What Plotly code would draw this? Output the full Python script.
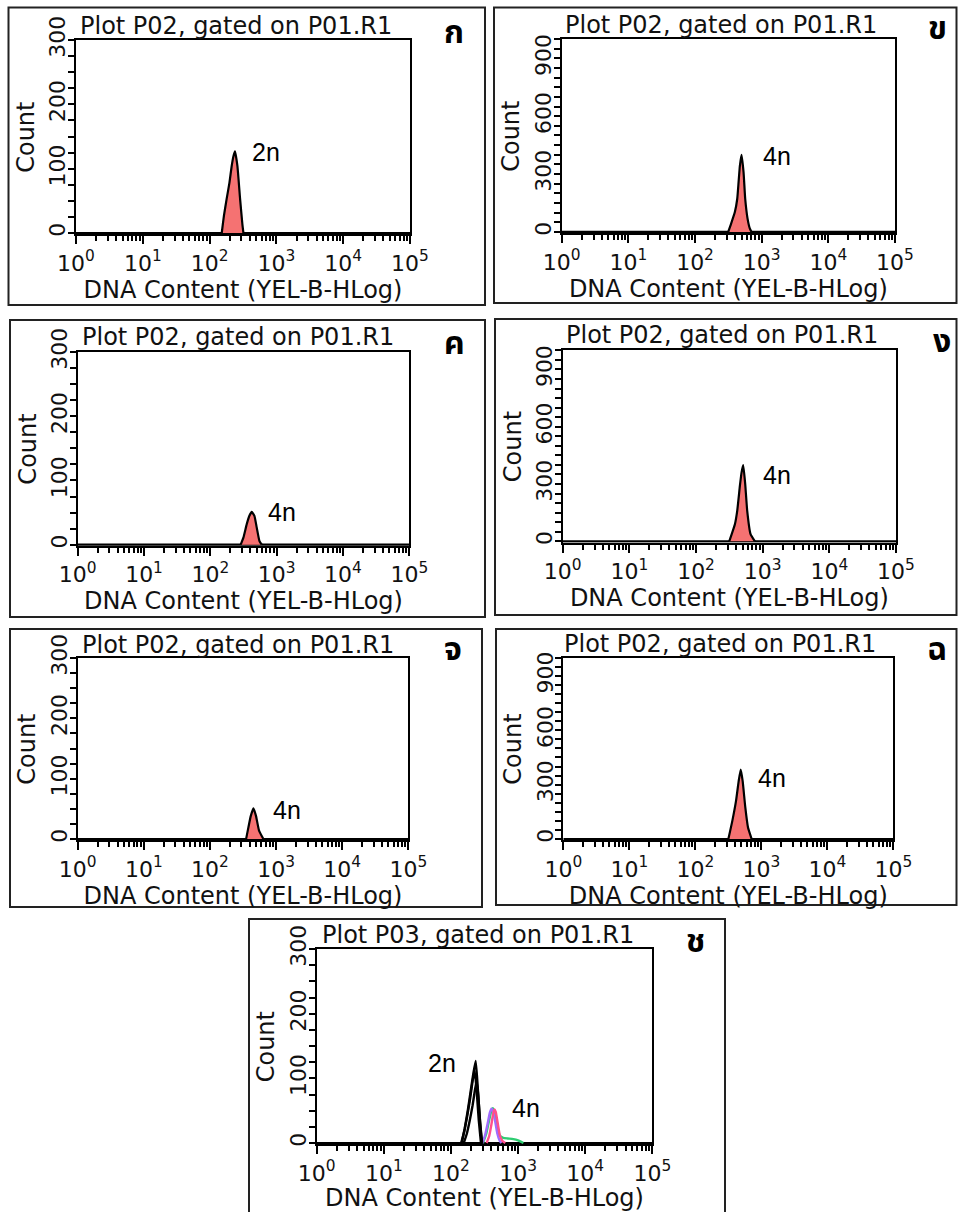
import plotly.graph_objects as go

# ---------------- data ----------------
panel_letters = ["ก", "ข", "ค", "ง", "จ", "ฉ", "ช"]
plot_titles = ["Plot P02, gated on P01.R1"] * 6 + ["Plot P03, gated on P01.R1"]
x_title = "DNA Content (YEL-B-HLog)"
y_title = "Count"
x_limits = [1, 100000]
baseline_counts = [0, 0]
x_tick_vals = [1, 10, 100, 1000, 10000, 100000]
x_tick_text = ["10<sup>0</sup>", "10<sup>1</sup>", "10<sup>2</sup>",
               "10<sup>3</sup>", "10<sup>4</sup>", "10<sup>5</sup>"]
x_minor_vals = [m * 10 ** k for k in range(5) for m in range(2, 10)]
y_ticks_small = [0, 100, 200, 300]
y_ticks_large = [0, 300, 600, 900]
y_max_small = 300
y_max_large = 1000
ploidy_labels = ["2n", "4n", "4n", "4n", "4n", "4n"]

# panel ก (2n)
dna_a = [152, 164, 180, 198, 214, 227, 240, 261, 286, 310, 321]
count_a = [0, 27, 53, 78, 104, 119, 127, 104, 53, 13, 0]
# panel ข (4n)
dna_b = [315, 341, 396, 430, 450, 471, 499, 535, 566, 614, 665, 705]
count_b = [0, 34, 103, 172, 257, 343, 400, 309, 172, 69, 17, 0]
# panel ค (4n)
dna_c = [287, 315, 354, 388, 421, 462, 500, 549, 595]
count_c = [0, 11, 32, 45, 51, 45, 27, 6, 0]
# panel ง (4n)
dna_d = [315, 383, 415, 455, 482, 511, 547, 586, 658, 764]
count_d = [0, 90, 160, 290, 360, 399, 300, 160, 38, 0]
# panel จ (4n)
dna_e = [352, 381, 414, 454, 498, 553, 643]
count_e = [0, 19, 38, 51, 38, 14, 0]
# panel ฉ (4n)
dna_f = [317, 364, 414, 454, 487, 522, 573, 629, 715]
count_f = [0, 100, 210, 319, 383, 319, 173, 64, 0]
# panel ช (overlay)
dna_g_black1 = [145, 160, 178, 198, 216, 234, 250, 268, 287]
count_g_black1 = [0, 22, 50, 82, 108, 127, 88, 40, 0]
dna_g_black2 = [142, 158, 175, 194, 212, 226, 242, 260, 280]
count_g_black2 = [0, 18, 42, 70, 98, 112, 80, 35, 0]
dna_g_black3 = [155, 172, 190, 210, 228, 242, 256, 272, 292]
count_g_black3 = [0, 14, 34, 58, 82, 96, 72, 32, 0]
dna_g_green = [300, 335, 370, 400, 420, 445, 480, 530, 600, 700, 850, 1000, 1200]
count_g_green = [0, 14, 35, 50, 54, 48, 30, 12, 8, 7, 6, 4, 0]
dna_g_purple = [295, 322, 352, 380, 402, 422, 452, 490, 530, 565]
count_g_purple = [0, 12, 30, 47, 53, 50, 36, 15, 4, 0]
dna_g_pink = [340, 370, 400, 425, 445, 465, 495, 535, 585, 645]
count_g_pink = [0, 10, 28, 45, 52, 48, 32, 12, 3, 0]

# ---------------- layout geometry (page pixels) ----------------
W, H = 958, 1212
# plot areas: (x0, x1, ytop, ybottom)
areas = [
    (76, 410, 40, 234.3),
    (561.7, 895, 39, 233.3),
    (77.7, 409.3, 352, 546),
    (562.7, 896, 350.3, 542.7),
    (77.7, 408.3, 658, 840.3),
    (563.3, 893.3, 657.7, 840.3),
    (316.7, 652.3, 949, 1144.3),
]
boxes = [
    (8.5, 485, 7.5, 305),
    (494, 956.5, 7.5, 303),
    (10, 485, 320, 617),
    (495, 956.5, 319, 615),
    (10, 482, 629, 907),
    (496, 956.5, 629, 905),
    (249, 725, 919, 1230),
]
letter_pos = [(454, 33), (937, 29), (454, 344), (942, 342),
              (453, 650), (937, 650), (695, 942)]
ploidy_pos = [(266, 152), (777, 156), (282, 512), (777, 475),
              (287, 810), (772, 778)]
title_pos = [(236, 26), (721, 25), (238, 337), (722, 335),
             (238, 645), (720, 644), (478, 935)]
large_y = [False, True, False, True, False, True, False]


def px(x):
    return x / W


def py(y):
    return 1 - y / H


FILL = "#f57272"
AX_FONT = dict(family="DejaVu Sans", size=24, color="#111111")
TICK_FONT = dict(family="DejaVu Sans", size=22, color="#111111")

fig = go.Figure()

single = [(dna_a, count_a), (dna_b, count_b), (dna_c, count_c),
          (dna_d, count_d), (dna_e, count_e), (dna_f, count_f)]

for i, (dna, cnt) in enumerate(single):
    n = "" if i == 0 else str(i + 1)
    fig.add_trace(go.Scatter(
        x=x_limits, y=baseline_counts, mode="lines",
        line=dict(color="black", width=2.2),
        xaxis="x" + n, yaxis="y" + n, showlegend=False, hoverinfo="skip"))
    fig.add_trace(go.Scatter(
        x=dna, y=cnt, mode="lines", fill="tozeroy", fillcolor=FILL,
        line=dict(color="black", width=2.2, shape="spline", smoothing=0.4),
        xaxis="x" + n, yaxis="y" + n, showlegend=False, hoverinfo="skip"))

fig.add_trace(go.Scatter(
    x=x_limits, y=baseline_counts, mode="lines",
    line=dict(color="black", width=2.2),
    xaxis="x7", yaxis="y7", showlegend=False, hoverinfo="skip"))
overlay = [
    (dna_g_green, count_g_green, "#2ecc71"),
    (dna_g_purple, count_g_purple, "#a06cff"),
    (dna_g_pink, count_g_pink, "#ff4f8b"),
    (dna_g_black3, count_g_black3, "black"),
    (dna_g_black2, count_g_black2, "black"),
    (dna_g_black1, count_g_black1, "black"),
]
for dna, cnt, col in overlay:
    fig.add_trace(go.Scatter(
        x=dna, y=cnt, mode="lines",
        line=dict(color=col, width=2.4, shape="spline", smoothing=0.4),
        xaxis="x7", yaxis="y7", showlegend=False, hoverinfo="skip"))

layout = dict(
    width=W, height=H, margin=dict(l=0, r=0, t=0, b=0, autoexpand=False),
    paper_bgcolor="white", plot_bgcolor="white", showlegend=False,
)
shapes = []
annotations = []
for i in range(7):
    n = "" if i == 0 else str(i + 1)
    x0, x1, yt, yb = areas[i]
    layout["xaxis" + n] = dict(
        type="log", range=[0, 5], domain=[px(x0), px(x1)],
        anchor="y" + n, tickmode="array", tickvals=x_tick_vals,
        ticktext=x_tick_text, ticks="outside", ticklen=8, tickwidth=2,
        tickcolor="black", showline=True, linewidth=2, linecolor="black",
        mirror=True, showgrid=False, zeroline=False, tickfont=TICK_FONT,
        automargin=False,
        minor=dict(tickmode="array", tickvals=x_minor_vals, ticks="outside",
                   ticklen=5, tickwidth=1.5, tickcolor="black", showgrid=False),
        title=dict(text=x_title, font=AX_FONT, standoff=4),
    )
    if large_y[i]:
        yr, y0r, yt_vals, ydt = y_max_large, -7, y_ticks_large, 50
    else:
        yr, y0r, yt_vals, ydt = y_max_small, -2, y_ticks_small, 25
    layout["yaxis" + n] = dict(
        range=[y0r, yr], domain=[py(yb), py(yt)], anchor="x" + n,
        tickmode="array", tickvals=yt_vals, ticks="outside", ticklen=6,
        tickwidth=2, tickcolor="black", tickangle=-90, ticklabelstandoff=-6,
        showline=True, linewidth=2, linecolor="black", mirror=True,
        showgrid=False, zeroline=False, tickfont=TICK_FONT, automargin=False,
        minor=dict(dtick=ydt, tick0=0, ticks="outside", ticklen=6,
                   tickwidth=1.5, tickcolor="black", showgrid=False),
        title=dict(text=y_title, font=AX_FONT, standoff=4),
    )
    bx0, bx1, by0, by1 = boxes[i]
    shapes.append(dict(type="rect", xref="paper", yref="paper",
                       x0=px(bx0), x1=px(bx1), y0=py(by1), y1=py(by0),
                       line=dict(color="#222222", width=2), layer="below"))
    tx, ty = title_pos[i]
    annotations.append(dict(text=plot_titles[i], xref="paper", yref="paper",
                            x=px(tx), y=py(ty), showarrow=False,
                            xanchor="center", yanchor="middle", font=AX_FONT))
    lx, ly = letter_pos[i]
    annotations.append(dict(text="<b>" + panel_letters[i] + "</b>",
                            xref="paper", yref="paper",
                            x=px(lx), y=py(ly), showarrow=False,
                            xanchor="center", yanchor="middle",
                            font=dict(family="Noto Sans Thai, Loma, Garuda, sans-serif",
                                      size=32, color="black")))
for i, lab in enumerate(ploidy_labels):
    ax_, ay_ = ploidy_pos[i]
    annotations.append(dict(text=lab, xref="paper", yref="paper",
                            x=px(ax_), y=py(ay_), showarrow=False,
                            xanchor="center", yanchor="middle",
                            font=dict(family="Liberation Sans", size=25, color="black")))
annotations.append(dict(text="2n", xref="paper", yref="paper", x=px(442), y=py(1063),
                        showarrow=False, xanchor="center", yanchor="middle",
                        font=dict(family="Liberation Sans", size=25, color="black")))
annotations.append(dict(text="4n", xref="paper", yref="paper", x=px(526), y=py(1108),
                        showarrow=False, xanchor="center", yanchor="middle",
                        font=dict(family="Liberation Sans", size=25, color="black")))
layout["shapes"] = shapes
layout["annotations"] = annotations
fig.update_layout(**layout)
fig.write_html(
    "out.html",
    config={"displayModeBar": False},
    post_script="document.body.style.margin='0';document.body.style.overflow='hidden';",
)
